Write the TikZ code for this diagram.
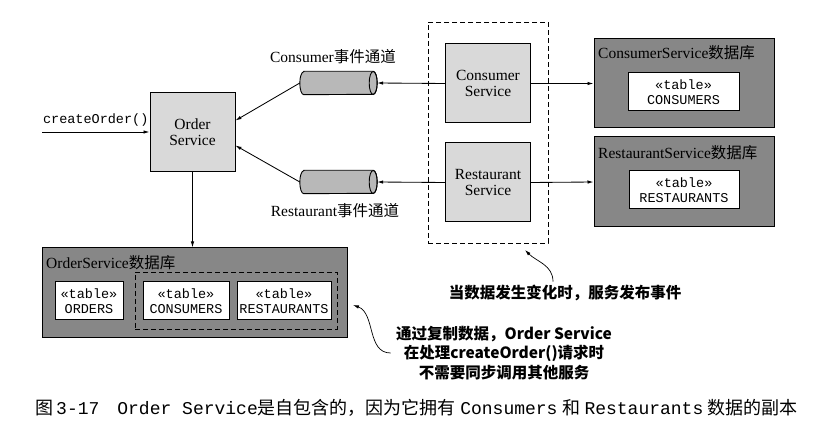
\documentclass[tikz,border=0pt]{standalone}
\usepackage{fontspec}
\setmainfont{Liberation Serif}
\setmonofont{Liberation Mono}
\newfontfamily\cjk{Noto Sans CJK SC}
\usetikzlibrary{arrows.meta,positioning}
\definecolor{svcgray}{gray}{0.85}
\definecolor{dbgray}{gray}{0.53}
\definecolor{pipegray}{gray}{0.72}
\tikzset{
  arr/.style={-{Latex[length=6pt,width=3.5pt]},line width=0.85pt},
  svc/.style={draw,fill=svcgray,line width=1pt,minimum width=85pt,minimum height=79pt,
    inner sep=0pt,align=center,font=\fontsize{15.5}{16}\selectfont},
  dbbox/.style={draw,fill=dbgray,line width=1pt,inner sep=0pt},
  dblabel/.style={anchor=west,inner sep=0pt,font=\fontsize{15.5}{17}\selectfont},
  tab/.style={draw,fill=white,line width=1pt,minimum height=38pt,inner sep=0pt,
    align=center,font=\ttfamily\fontsize{13.5}{15}\selectfont},
  chan/.style={rectangle,minimum width=77pt,minimum height=23pt,inner sep=0pt},
  chanlabel/.style={font=\fontsize{15.5}{17}\selectfont},
  grp/.style={draw,dash pattern=on 5pt off 3pt,line width=0.9pt,inner sep=0pt},
  note/.style={align=center,font=\cjk\bfseries\fontsize{15.5}{19.5}\selectfont}
}
\begin{document}
\begin{tikzpicture}[x=1pt,y=-1pt]
\useasboundingbox (0,0) rectangle (836,435);
% services
\node[svc] (order) at (192.5,132.5) {Order\\Service};
\node[svc] (csvc) at (488,83.5) {Consumer\\Service};
\node[svc] (rsvc) at (488,182.5) {Restaurant\\Service};
\node[grp,minimum width=120pt,minimum height=221pt] (events) at (488,132.5) {};
% event channels
\node[chan] (cchan) at (338.5,83) {};
\node[chan] (rchan) at (338.5,182) {};
\foreach \p in {cchan,rchan} {
  \draw[fill=pipegray,line width=0.9pt] ([xshift=4pt]\p.north west) -- ([xshift=-4pt]\p.north east)
    arc[start angle=90,end angle=-90,x radius=4pt,y radius=11.5pt] -- ([xshift=4pt]\p.south west)
    arc[start angle=270,end angle=90,x radius=4pt,y radius=11.5pt] -- cycle;
  \draw[line width=0.9pt] ([xshift=-4pt]\p.east) ellipse[x radius=4pt,y radius=11.5pt];
}
\node[chanlabel] at (333,57) {Consumer{\cjk 事件通道}};
\node[chanlabel] at (335,211) {Restaurant{\cjk 事件通道}};
% databases
\node[dbbox,minimum width=180pt,minimum height=89pt] (csdb) at (684,83.5) {};
\node[dblabel] at (598,53) {ConsumerService{\cjk 数据库}};
\node[tab,minimum width=111pt] (ctab) at (683.5,92) {«table»\\CONSUMERS};
\node[dbbox,minimum width=180pt,minimum height=90pt] (rsdb) at (684,182) {};
\node[dblabel] at (598,153) {RestaurantService{\cjk 数据库}};
\node[tab,minimum width=110pt] (rtab) at (684,190) {«table»\\RESTAURANTS};
\node[dbbox,minimum width=305pt,minimum height=90pt] (osdb) at (194.5,293) {};
\node[dblabel] at (46,263) {OrderService{\cjk 数据库}};
\node[tab,minimum width=68pt] (otab) at (89,301) {«table»\\ORDERS};
\node[grp,minimum width=202pt,minimum height=57pt] (copies) at (236,300.5) {};
\node[tab,minimum width=86pt] (octab) at (186,301) {«table»\\CONSUMERS};
\node[tab,minimum width=94pt] (ortab) at (284,301) {«table»\\RESTAURANTS};
% connectors
\coordinate (client) at (42,132);
\draw[arr] (client) -- node[above=2pt,font=\ttfamily\fontsize{13.5}{15}\selectfont] {createOrder()} (client -| order.west);
\draw[arr] (cchan.west) -- ([yshift=12pt]order.east);
\draw[arr] (rchan.west) -- ([yshift=-13pt]order.east);
\draw[arr] (csvc.west) -- (cchan.east);
\draw[arr] (rsvc.west) -- (rchan.east);
\draw[arr] (csvc.east) -- (csdb.west);
\draw[arr] (rsvc.east) -- (rsdb.west);
\draw[arr] (order.south) -- (order.south |- osdb.north);
% notes
\node[note] (publish) at (565,293) {当数据发生变化时，服务发布事件};
\node[note] (replica) at (504,353) {通过复制数据，Order Service\\在处理createOrder()请求时\\不需要同步调用其他服务};
\coordinate (tipA) at (353,305);
\coordinate (tipB) at (525,250);
\draw[arr,line width=0.7pt] ([xshift=-2pt]replica.west) to[out=180,in=-20] (tipA);
\draw[arr,line width=0.7pt] ([xshift=-12pt]publish.north) to[out=90,in=-45] (tipB);
% caption
\node[anchor=west,inner sep=0pt,font=\fontsize{18}{20}\selectfont] (caption) at (35,408)
  {{\cjk 图}\,{\ttfamily 3-17}\quad{\ttfamily Order~Service}{\cjk 是自包含的，因为它拥有}~{\ttfamily Consumers}~{\cjk 和}~{\ttfamily Restaurants}~{\cjk 数据的副本}};
\end{tikzpicture}
\end{document}
